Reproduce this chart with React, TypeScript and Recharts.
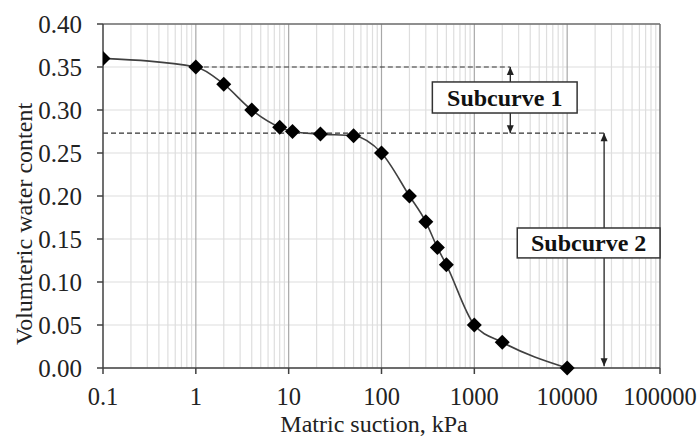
import React from 'react';
import {
  ComposedChart,
  Line,
  XAxis,
  YAxis,
  CartesianGrid,
  ReferenceLine,
  ReferenceArea,
} from 'recharts';

// measured points (suction in kPa, volumetric water content)
const suction = [0.1, 1, 2, 4, 8, 11, 22, 50, 100, 200, 300, 400, 500, 1000, 2000, 10000];
const waterContent = [0.36, 0.35, 0.33, 0.3, 0.28, 0.275, 0.272, 0.27, 0.25, 0.2, 0.17, 0.14, 0.12, 0.05, 0.03, 0.0];

const xTicks = [0.1, 1, 10, 100, 1000, 10000, 100000];
const yTicks = [0, 0.05, 0.1, 0.15, 0.2, 0.25, 0.3, 0.35, 0.4];

// subcurve markers
const subcurve1Top = 0.35;
const subcurveSplit = 0.273;
const subcurve1ArrowX = 2440;
const subcurve2ArrowX = 25000;

const data = suction.map((x, i) => ({ x, y: waterContent[i] }));

const majorLines = xTicks.slice(1, -1);
const minorLines: number[] = [];
xTicks.slice(0, -1).forEach((d) => {
  for (let k = 2; k <= 9; k++) minorLines.push(d * k);
});

const FONT = 'Liberation Serif, Times, DejaVu Serif, serif';
const INK = '#404040';

// pixel positions of vertical grid values, through the axis scale when available
const gridGen = (values: number[]) => (args: any) => {
  const { xAxis, offset } = args;
  if (xAxis && typeof xAxis.scale === 'function') return values.map((v) => xAxis.scale(v));
  const [d0, d1] = [Math.log10(xTicks[0]), Math.log10(xTicks[xTicks.length - 1])];
  return values.map((v) => offset.left + ((Math.log10(v) - d0) / (d1 - d0)) * offset.width);
};

const Diamond = (props: any) => {
  const { cx, cy } = props;
  if (cx == null || cy == null) return null;
  const r = 7.5;
  return (
    <polygon
      points={`${cx},${cy - r} ${cx + r},${cy} ${cx},${cy + r} ${cx - r},${cy}`}
      fill="#000"
    />
  );
};

const XTick = (props: any) => {
  const { x, y, payload } = props;
  return (
    <text x={x} y={y} dy="0.71em" textAnchor="middle" fontFamily={FONT} fontSize={24.5} fill="#222">
      {String(payload.value)}
    </text>
  );
};

const YTick = (props: any) => {
  const { x, y, payload } = props;
  return (
    <text x={x} y={y} dy="0.35em" textAnchor="end" fontFamily={FONT} fontSize={25} fill="#222">
      {Number(payload.value).toFixed(2)}
    </text>
  );
};

// vertical line with arrow heads
const arrow = (head: 'start' | 'end' | 'both') => (props: any) => {
  const { x1, y1, x2, y2 } = props;
  const w = 3.5;
  const h = 8;
  const up = (x: number, y: number) => `${x},${y} ${x - w},${y + h} ${x + w},${y + h}`;
  const down = (x: number, y: number) => `${x},${y} ${x - w},${y - h} ${x + w},${y - h}`;
  const top = Math.min(y1, y2);
  const bottom = Math.max(y1, y2);
  return (
    <g>
      <line x1={x1} y1={top} x2={x2} y2={bottom} stroke="#222" strokeWidth={1.3} />
      {(head === 'start' || head === 'both') && <polygon points={up(x1, top)} fill="#222" />}
      {(head === 'end' || head === 'both') && <polygon points={down(x1, bottom)} fill="#222" />}
    </g>
  );
};

// white label box with bold text
const LabelBox = (text: string) => (props: any) => {
  const { x, y, width, height } = props;
  return (
    <g>
      <rect x={x} y={y} width={width} height={height} fill="#fff" stroke="#333" strokeWidth={1.5} />
      <text
        x={x + width / 2}
        y={y + height / 2}
        dy="0.35em"
        textAnchor="middle"
        fontFamily={FONT}
        fontSize={24}
        fontWeight="bold"
        fill="#111"
      >
        {text}
      </text>
    </g>
  );
};

const YTitle = () => (
  <text
    transform="translate(32, 224) rotate(-90)"
    textAnchor="middle"
    fontFamily={FONT}
    fontSize={24}
    fill="#222"
  >
    Volumteric water content
  </text>
);

const XTitle = () => (
  <text x={374} y={432} textAnchor="middle" fontFamily={FONT} fontSize={24} fill="#222">
    Matric suction, kPa
  </text>
);

export default function App() {
  return (
    <div style={{ position: 'absolute', left: 0, top: 0, background: '#fff' }}>
      <ComposedChart
        width={698}
        height={437}
        data={data}
        margin={{ top: 24, right: 38, left: 0, bottom: 0 }}
      >
        <CartesianGrid
          stroke="#dedede"
          strokeWidth={1.2}
          verticalCoordinatesGenerator={gridGen(minorLines)}
        />
        <CartesianGrid
          horizontal={false}
          stroke="#a8a8a8"
          strokeWidth={1.2}
          verticalCoordinatesGenerator={gridGen(majorLines)}
        />
        <ReferenceLine y={0.4} stroke="#6f6f6f" strokeWidth={1.5} />
        <ReferenceLine x={100000} stroke="#6f6f6f" strokeWidth={1.5} />

        <XAxis
          type="number"
          dataKey="x"
          scale="log"
          domain={[0.1, 100000]}
          ticks={xTicks}
          allowDataOverflow
          height={69}
          stroke={INK}
          strokeWidth={1.5}
          tickSize={6}
          tickMargin={14}
          tick={<XTick />}
          label={{ content: () => <XTitle /> }}
        />
        <YAxis
          type="number"
          domain={[0, 0.4]}
          ticks={yTicks}
          width={103}
          stroke={INK}
          strokeWidth={1.5}
          tickSize={6}
          tickMargin={15}
          tick={<YTick />}
          label={{ content: () => <YTitle /> }}
        />

        {/* dashed level markers */}
        <ReferenceLine
          segment={[{ x: 1, y: subcurve1Top }, { x: subcurve1ArrowX, y: subcurve1Top }]}
          stroke="#333"
          strokeDasharray="5 3"
          strokeWidth={1.2}
        />
        <ReferenceLine
          segment={[{ x: 0.1, y: subcurveSplit }, { x: subcurve2ArrowX, y: subcurveSplit }]}
          stroke="#333"
          strokeDasharray="5 3"
          strokeWidth={1.2}
        />

        <Line
          type="monotone"
          dataKey="y"
          stroke={INK}
          strokeWidth={1.6}
          dot={<Diamond />}
          activeDot={false}
          isAnimationActive={false}
        />

        {/* arrows */}
        <ReferenceLine
          segment={[{ x: subcurve1ArrowX, y: subcurve1Top }, { x: subcurve1ArrowX, y: 0.33 }]}
          shape={arrow('start')}
        />
        <ReferenceLine
          segment={[{ x: subcurve1ArrowX, y: 0.3 }, { x: subcurve1ArrowX, y: subcurveSplit }]}
          shape={arrow('end')}
        />
        <ReferenceLine
          segment={[{ x: subcurve2ArrowX, y: subcurveSplit }, { x: subcurve2ArrowX, y: 0.002 }]}
          shape={arrow('both')}
        />

        {/* labels */}
        <ReferenceArea
          x1={353}
          x2={12800}
          y1={0.2965}
          y2={0.3326}
          ifOverflow="visible"
          zIndex={1500}
          shape={LabelBox('Subcurve 1')}
        />
        <ReferenceArea
          x1={2900}
          x2={100000}
          y1={0.128}
          y2={0.1628}
          ifOverflow="visible"
          zIndex={1500}
          shape={LabelBox('Subcurve 2')}
        />
      </ComposedChart>
    </div>
  );
}
